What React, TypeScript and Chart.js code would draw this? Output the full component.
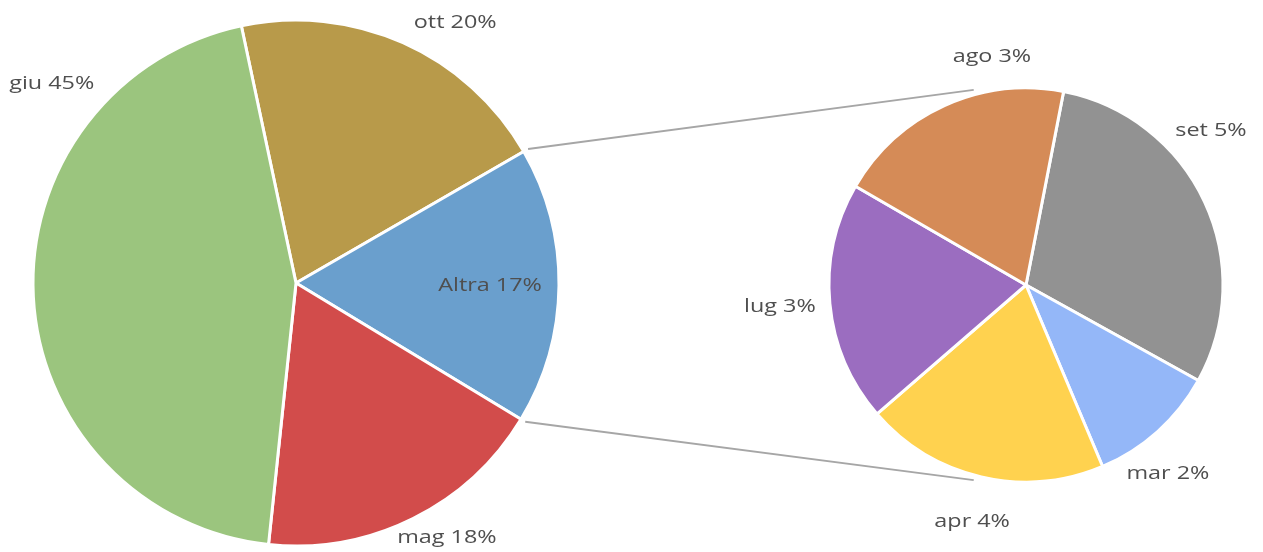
import React, { useEffect, useRef } from 'react';
import { Chart, registerables } from 'chart.js';

Chart.register(...registerables);

// ---- data ----
const mainCategories = ['ott', 'Altra', 'mag', 'giu'];
const mainValues = [20, 17, 18, 45];
const mainLabels = ['ott 20%', 'Altra 17%', 'mag 18%', 'giu 45%'];
const mainColors = ['#B89A4A', '#6A9FCD', '#D24C4B', '#9BC57E'];

const subCategories = ['set', 'mar', 'apr', 'lug', 'ago'];
const subValues = [5.1, 1.8, 3.4, 3.35, 3.35];
const subLabels = ['set 5%', 'mar 2%', 'apr 4%', 'lug 3%', 'ago 3%'];
const subColors = ['#929292', '#94B7F8', '#FFD24F', '#9B6DC0', '#D58B57'];

// ---- label placement (angle from top in degrees, distance as fraction of radius) ----
const mainLabelPlacement = [
  [31.4, 1.162],
  [90.9, 0.738],
  [149.3, 1.124],
  [309.3, 1.2],
];
const subLabelPlacement = [
  [50.2, 1.222],
  [143.1, 1.2],
  [192.8, 1.234],
  [264.9, 1.254],
  [351.5, 1.17],
];

const connectorSubAngles = [-15, 195];
const TEXT_COLOR = '#4F4F4F';
const FONT = '19px "Open Sans", sans-serif';
const TEXT_STRETCH = 1.23;

function labelPlugin(id: string, labels: string[], placement: number[][]) {
  return {
    id,
    afterDatasetsDraw(chart: any) {
      const meta = chart.getDatasetMeta(0);
      const arc = meta.data[0];
      if (!arc) return;
      const cx = arc.x;
      const cy = arc.y;
      const r = arc.outerRadius;
      const ctx = chart.ctx;
      ctx.save();
      ctx.font = FONT;
      ctx.fillStyle = TEXT_COLOR;
      ctx.textAlign = 'center';
      ctx.textBaseline = 'middle';
      labels.forEach((t, i) => {
        const [deg, f] = placement[i];
        const a = (deg * Math.PI) / 180;
        const x = cx + r * f * Math.sin(a);
        const y = cy - r * f * Math.cos(a);
        ctx.save();
        ctx.translate(x, y);
        ctx.scale(TEXT_STRETCH, 1);
        ctx.fillText(t, 0, 0);
        ctx.restore();
      });
      ctx.restore();
    },
  };
}

export default function App() {
  const mainRef = useRef<HTMLCanvasElement>(null);
  const subRef = useRef<HTMLCanvasElement>(null);

  useEffect(() => {
    const mainChart = new Chart(mainRef.current!, {
      type: 'pie',
      data: {
        labels: mainCategories,
        datasets: [
          {
            data: mainValues,
            backgroundColor: mainColors,
            borderColor: '#FFFFFF',
            borderWidth: 3,
          },
        ],
      },
      options: {
        responsive: false,
        animation: false,
        rotation: -12,
        radius: 263,
        layout: { padding: { left: 0, right: 671, top: 14, bottom: 0 } },
        plugins: { legend: { display: false }, tooltip: { enabled: false } },
      },
      plugins: [labelPlugin('mainLabels', mainLabels, mainLabelPlacement)],
    });

    const connectorPlugin = {
      id: 'connectors',
      afterDatasetsDraw(chart: any) {
        const subArc = chart.getDatasetMeta(0).data[0];
        const altra = mainChart.getDatasetMeta(0).data[1] as any;
        if (!subArc || !altra) return;
        const ctx = chart.ctx;
        const r0 = altra.outerRadius + 5;
        const r1 = subArc.outerRadius + 5;
        const starts = [altra.startAngle, altra.endAngle];
        ctx.save();
        ctx.strokeStyle = '#A6A6A6';
        ctx.lineWidth = 2;
        starts.forEach((a: number, i: number) => {
          const sx = altra.x + r0 * Math.cos(a);
          const sy = altra.y + r0 * Math.sin(a);
          const b = ((connectorSubAngles[i] - 90) * Math.PI) / 180;
          const ex = subArc.x + r1 * Math.cos(b);
          const ey = subArc.y + r1 * Math.sin(b);
          ctx.beginPath();
          ctx.moveTo(sx, sy);
          ctx.lineTo(ex, ey);
          ctx.stroke();
        });
        ctx.restore();
      },
    };

    const subChart = new Chart(subRef.current!, {
      type: 'pie',
      data: {
        labels: subCategories,
        datasets: [
          {
            data: subValues,
            backgroundColor: subColors,
            borderColor: '#FFFFFF',
            borderWidth: 3,
          },
        ],
      },
      options: {
        responsive: false,
        animation: false,
        rotation: 11,
        radius: 197,
        layout: { padding: { left: 789, right: 0, top: 18, bottom: 0 } },
        plugins: { legend: { display: false }, tooltip: { enabled: false } },
      },
      plugins: [connectorPlugin, labelPlugin('subLabels', subLabels, subLabelPlacement)],
    });

    return () => {
      subChart.destroy();
      mainChart.destroy();
    };
  }, []);

  const canvasStyle: React.CSSProperties = { position: 'absolute', left: 0, top: 0 };
  return (
    <div style={{ position: 'fixed', left: 0, top: 0, width: 1263, height: 552, background: '#FFFFFF' }}>
      <canvas ref={mainRef} width={1263} height={552} style={canvasStyle} />
      <canvas ref={subRef} width={1263} height={552} style={canvasStyle} />
    </div>
  );
}
